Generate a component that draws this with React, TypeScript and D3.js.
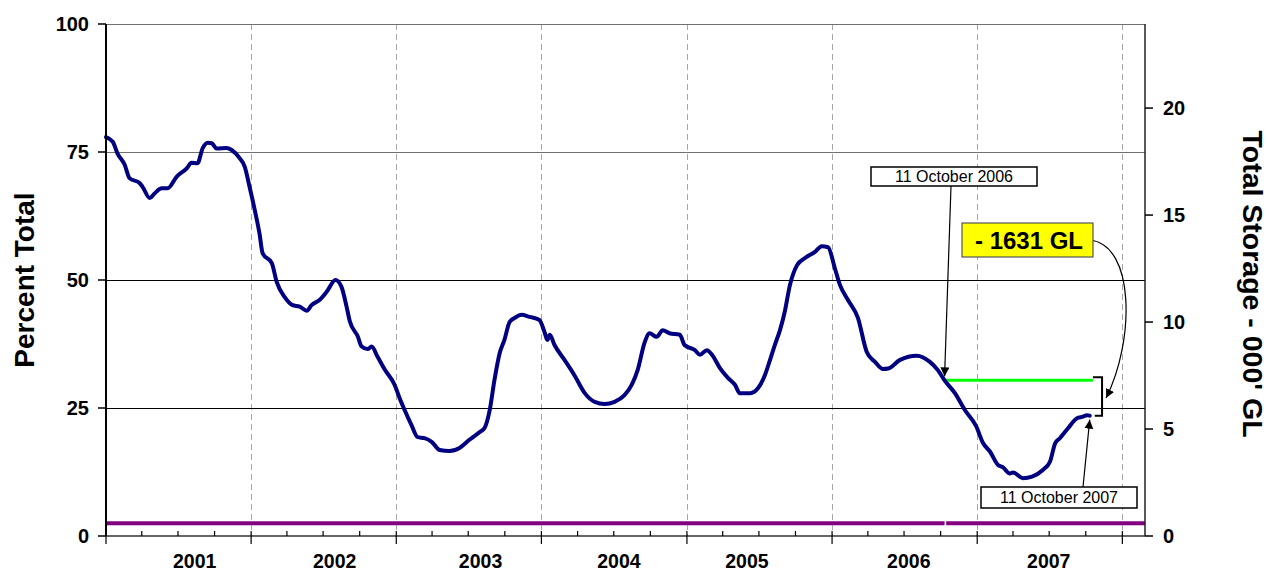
import React from 'react';
import * as d3 from 'd3';

// ---------- DATA ----------
const dates = [
  '2001-01-01','2001-01-18','2001-01-30','2001-02-17','2001-03-01','2001-03-27','2001-04-03','2001-04-21',
  '2001-05-03','2001-05-21','2001-06-05','2001-06-28','2001-07-23','2001-08-04','2001-08-19','2001-09-01',
  '2001-09-14','2001-09-24','2001-10-06','2001-10-31','2001-11-13','2001-12-03','2001-12-16','2001-12-28',
  '2002-01-10','2002-01-22','2002-01-30','2002-02-22','2002-03-06','2002-03-26','2002-04-15','2002-05-03',
  '2002-05-21','2002-06-02','2002-06-22','2002-07-10','2002-08-01','2002-08-16','2002-08-29','2002-09-06',
  '2002-09-26','2002-10-06','2002-10-21','2002-10-31','2002-11-15','2002-12-03','2002-12-28',
  '2003-01-09','2003-01-22','2003-02-08','2003-02-24','2003-03-13','2003-03-31','2003-04-20','2003-05-15',
  '2003-06-09','2003-07-04','2003-07-30','2003-08-11','2003-08-24','2003-09-05','2003-09-18','2003-09-30',
  '2003-10-13','2003-10-26','2003-11-12','2003-12-02','2003-12-27',
  '2004-01-09','2004-01-16','2004-01-22','2004-02-03','2004-02-28','2004-03-24','2004-04-19','2004-05-14',
  '2004-06-08','2004-07-03','2004-07-28','2004-08-15','2004-08-30','2004-09-17','2004-09-29','2004-10-17',
  '2004-11-01','2004-11-18','2004-12-14','2004-12-26',
  '2005-01-21','2005-02-03','2005-02-20','2005-03-05','2005-03-25','2005-04-14','2005-05-02','2005-05-14',
  '2005-06-09','2005-06-29','2005-07-16','2005-07-29','2005-08-10','2005-08-23','2005-09-04','2005-09-17',
  '2005-10-05','2005-10-25','2005-11-19','2005-12-06','2005-12-22',
  '2006-01-08','2006-01-21','2006-02-10','2006-03-07','2006-03-29','2006-04-19','2006-05-09','2006-05-22',
  '2006-06-21','2006-08-02','2006-09-04','2006-09-24','2006-10-11','2006-11-06','2006-12-01','2006-12-29',
  '2007-01-16','2007-02-02','2007-02-22','2007-03-07','2007-03-24','2007-04-01','2007-04-26','2007-05-19',
  '2007-06-15','2007-07-03','2007-07-16','2007-07-28','2007-08-17','2007-09-09','2007-09-24','2007-10-04',
  '2007-10-11'
];
const percentFull = [
  77.9, 77.0, 74.7, 72.5, 69.9, 68.9, 68.2, 66.0,
  66.9, 67.9, 67.9, 70.2, 71.8, 72.9, 72.8, 75.7,
  76.8, 76.7, 75.7, 75.8, 75.4, 73.8, 72.1, 68.2,
  63.7, 59.1, 55.2, 53.3, 49.7, 46.7, 45.1, 44.8,
  44.0, 45.1, 46.1, 47.7, 50.0, 48.7, 44.8, 42.0,
  39.0, 37.0, 36.5, 37.0, 35.0, 32.5, 29.5,
  27.0, 24.6, 21.7, 19.3, 19.1, 18.4, 16.8, 16.6,
  17.2, 18.8, 20.3, 21.1, 24.6, 30.5, 35.7, 38.3,
  41.8, 42.6, 43.2, 42.8, 42.2,
  39.8, 38.3, 39.3, 37.3, 34.4, 31.4, 27.9, 26.2,
  25.8, 26.2, 27.5, 29.5, 32.4, 37.9, 39.6, 38.9,
  40.2, 39.6, 39.3, 37.3,
  36.3, 35.4, 36.3, 35.4, 32.8, 30.9, 29.5, 27.9,
  27.9, 28.9, 31.4, 34.4, 37.3, 40.2, 43.8, 49.0,
  52.9, 54.3, 55.5, 56.6, 56.4,
  52.3, 49.0, 46.1, 42.6, 36.0, 34.0, 32.6, 32.7,
  34.4, 35.2, 34.0, 32.4, 30.4, 27.9, 24.6, 21.5,
  18.1, 16.5, 13.9, 13.4, 12.2, 12.4, 11.3, 11.6,
  12.9, 14.5, 18.1, 19.1, 21.0, 23.0, 23.3, 23.6,
  23.5
];

const baselineDatesA = ['2001-01-01', '2006-10-11'];
const baselineDatesB = ['2006-10-15', '2008-02-27'];
const baselineValue = 2.5;

const compareDates = ['2006-10-11', '2007-10-19'];
const compareValue = 30.4;
const currentDate = '2007-10-11';
const currentValue = 23.5;
const bracketDate = '2007-11-11';

const yearLabels = ['2001', '2002', '2003', '2004', '2005', '2006', '2007'];
const yearLabelDates = ['2001-08-12', '2002-07-30', '2003-08-01', '2004-07-14', '2005-06-01', '2006-07-13', '2007-06-30'];
const leftTicks = [0, 25, 50, 75, 100];
const rightTicks = [0, 5, 10, 15, 20];
const capacityThousandGL = 23.93;
const domainDates = ['2001-01-01', '2008-02-27'];

const label2006 = '11 October 2006';
const label2007 = '11 October 2007';
const diffLabel = '- 1631 GL';

// ---------- LAYOUT ----------
const W = 1269, H = 572;
const L = 106, R = 1145, T = 24, B = 536;
const FONT = 'Arial, "Liberation Sans", Helvetica, sans-serif';

const parse = d3.timeParse('%Y-%m-%d');

export default function App() {
  const x = d3.scaleTime().domain(domainDates.map(d => parse(d)!)).range([L, R]);
  const y = d3.scaleLinear().domain([0, 100]).range([B, T]);
  const y2 = d3.scaleLinear().domain([0, capacityThousandGL]).range([B, T]);

  const series = dates.map((d, i) => ({ date: parse(d)!, v: percentFull[i] }));
  const line = d3.line<{ date: Date; v: number }>()
    .x(d => x(d.date))
    .y(d => y(d.v))
    .curve(d3.curveMonotoneX);

  const flat = (ds: string[], v: number) =>
    d3.line<string>().x(d => x(parse(d)!)).y(() => y(v))(ds) || '';

  const yearLines = d3.timeYear.range(parse('2002-01-01')!, parse('2008-01-02')!);
  const majorTicks = d3.timeYear.range(parse('2001-01-01')!, parse('2008-01-02')!);
  const minorTicks = d3.timeMonth.every(3)!.range(parse('2001-01-01')!, parse('2008-02-27')!)
    .filter(d => d.getMonth() !== 0);

  const p06x = x(parse('2006-10-11')!);
  const p06y = y(compareValue);
  const p07x = x(parse(currentDate)!);
  const p07y = y(currentValue);
  const gEnd = x(parse(compareDates[1])!);
  const bx = x(parse(bracketDate)!);

  return (
    <svg width={W} height={H} style={{ position: 'absolute', left: 0, top: 0, background: '#fff' }}
      fontFamily={FONT}>
      <defs>
        <marker id="ah" viewBox="0 0 10 10" refX="10" refY="5" markerWidth="9" markerHeight="9"
          markerUnits="userSpaceOnUse" orient="auto">
          <path d="M0,0 L10,5 L0,10 z" fill="#000" />
        </marker>
      </defs>
      <rect x={0} y={0} width={W} height={H} fill="#fff" />

      {/* vertical dashed year lines */}
      {yearLines.map((d, i) => (
        <line key={'v' + i} x1={Math.round(x(d)) + 0.5} x2={Math.round(x(d)) + 0.5} y1={T} y2={B}
          stroke="#a6a6a6" strokeWidth={1} strokeDasharray="6,4" />
      ))}

      {/* horizontal gridlines */}
      {leftTicks.filter(t => t > 0).map(t => (
        <line key={'h' + t} x1={L} x2={R} y1={Math.round(y(t)) + 0.5} y2={Math.round(y(t)) + 0.5}
          stroke={t === 100 || t === 75 ? '#707070' : '#000'} strokeWidth={1} />
      ))}

      {/* baseline purple series */}
      <path d={flat(baselineDatesA, baselineValue)} stroke="#800080" strokeWidth={4} fill="none" />
      <path d={flat(baselineDatesB, baselineValue)} stroke="#800080" strokeWidth={4} fill="none" />

      {/* green comparison line */}
      <path d={flat(compareDates, compareValue)} stroke="#00ff00" strokeWidth={3} fill="none" />

      {/* main storage line */}
      <path d={line(series) || ''} stroke="#000080" strokeWidth={4} fill="none"
        strokeLinejoin="round" strokeLinecap="round" />

      {/* axes */}
      <line x1={L} x2={L} y1={T} y2={B} stroke="#000" strokeWidth={2} />
      <line x1={R} x2={R} y1={T} y2={B} stroke="#222" strokeWidth={1.5} />
      <line x1={L} x2={R} y1={B} y2={B} stroke="#333" strokeWidth={1.5} />

      {leftTicks.map(t => (
        <g key={'lt' + t}>
          <line x1={L - 8} x2={L} y1={y(t)} y2={y(t)} stroke="#000" strokeWidth={1.5} />
          <text x={L - 17} y={y(t)} dy="0.36em" textAnchor="end" fontSize={20} fontWeight="bold">{t}</text>
        </g>
      ))}
      {rightTicks.map(t => (
        <g key={'rt' + t}>
          <line x1={R} x2={R + 8} y1={y2(t)} y2={y2(t)} stroke="#000" strokeWidth={1.5} />
          <text x={R + 18} y={y2(t)} dy="0.36em" textAnchor="start" fontSize={20} fontWeight="bold">{t}</text>
        </g>
      ))}

      {majorTicks.map((d, i) => (
        <line key={'mj' + i} x1={x(d)} x2={x(d)} y1={B - 5} y2={B + 8} stroke="#000" strokeWidth={1.2} />
      ))}
      {minorTicks.map((d, i) => (
        <line key={'mn' + i} x1={x(d)} x2={x(d)} y1={B - 5} y2={B} stroke="#000" strokeWidth={1.2} />
      ))}
      {yearLabels.map((lab, i) => (
        <text key={'yl' + i} x={x(parse(yearLabelDates[i])!)} y={568} textAnchor="middle"
          fontSize={19.5} fontWeight="bold">{lab}</text>
      ))}

      {/* axis titles */}
      <text transform={`translate(34,280) rotate(-90)`} textAnchor="middle" fontSize={28} fontWeight="bold">
        Percent Total
      </text>
      <text transform={`translate(1243,284) rotate(90)`} textAnchor="middle" fontSize={28.5} fontWeight="bold">
        Total Storage - 000' GL
      </text>

      {/* annotations */}
      <line x1={951} y1={186} x2={p06x} y2={p06y - 4} stroke="#000" strokeWidth={1.2} markerEnd="url(#ah)" />
      <rect x={871} y={167} width={166} height={19} fill="#fff" stroke="#000" strokeWidth={1.5} />
      <text x={954} y={182} textAnchor="middle" fontSize={16}>{label2006}</text>

      <line x1={1083} y1={487} x2={p07x} y2={p07y + 4} stroke="#000" strokeWidth={1.2} markerEnd="url(#ah)" />
      <rect x={981} y={487} width={156} height={21} fill="#fff" stroke="#000" strokeWidth={1.5} />
      <text x={1059} y={503} textAnchor="middle" fontSize={16}>{label2007}</text>

      <path d={`M${gEnd},${p06y - 3} H${bx} V${p07y} H${p07x + 5}`} fill="none" stroke="#000" strokeWidth={2} />

      <path d={`M1090,240 C1135,245 1135,340 ${bx + 4},${(p06y + p07y) / 2}`} fill="none" stroke="#000"
        strokeWidth={1.2} markerEnd="url(#ah)" />
      <rect x={962} y={223} width={131} height={34} fill="#ffff00" stroke="#555" strokeWidth={1.2} />
      <text x={1029} y={249} textAnchor="middle" fontSize={24} fontWeight="bold">{diffLabel}</text>
    </svg>
  );
}
